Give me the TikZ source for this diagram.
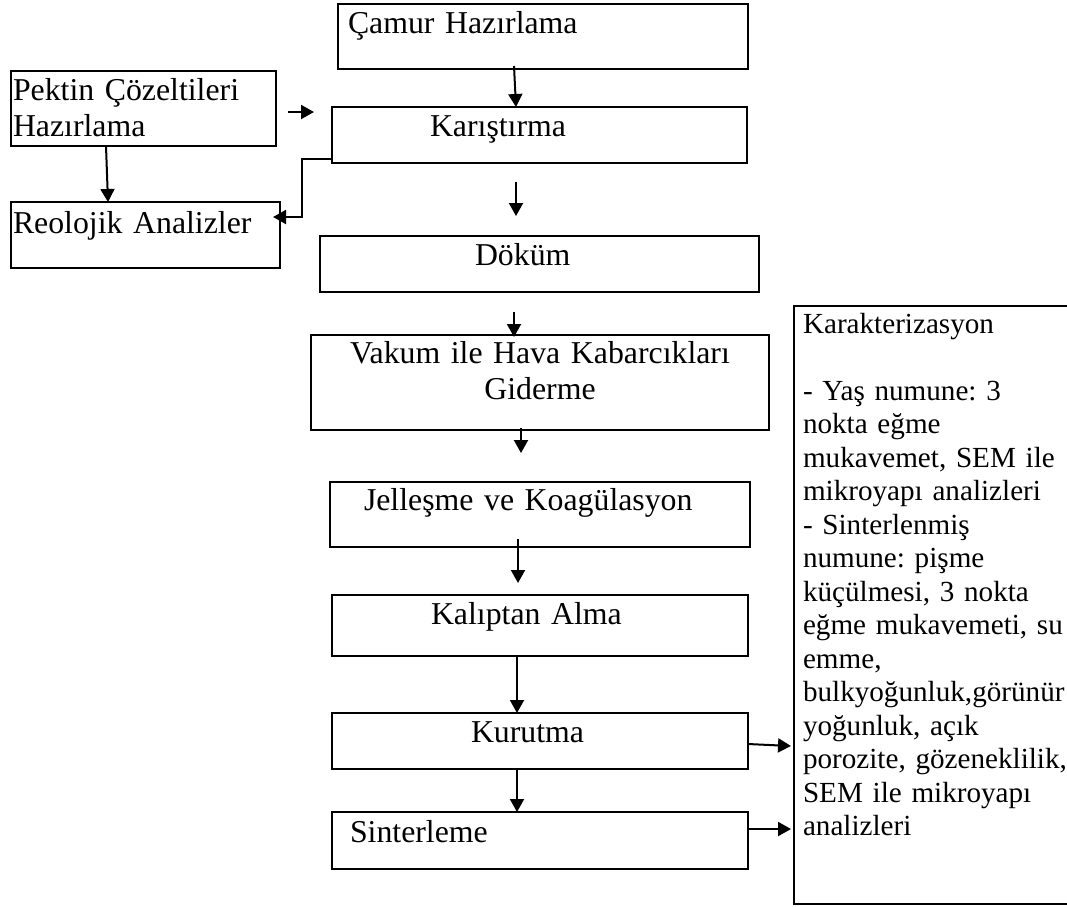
\documentclass[tikz,border=0pt]{standalone}
\usepackage{fontspec}
\setmainfont{Liberation Serif}
\usetikzlibrary{arrows.meta,calc}
\newcommand\bigtxt{\fontsize{31.8}{36.6}\selectfont\frenchspacing}
\newcommand\kartxt{\fontsize{29.15}{33.5}\selectfont\frenchspacing}
\begin{document}
\begin{tikzpicture}[x=1pt,y=-1pt,
  box/.style={draw, line width=2pt, anchor=north west, inner ysep=0pt, outer sep=0pt, align=left, font=\bigtxt},
  arr/.style={line width=2pt, -{Triangle[length=13pt,width=14pt]}}]
\useasboundingbox (0,0) rectangle (1067,906);
% boxes
\node[box, inner xsep=10pt, text width=390pt, text height=29pt, text depth=36pt] (camur) at (338,4) {Çamur Hazırlama};
\node[box, inner xsep=2pt, text width=261pt, text height=29pt, text depth=46pt] (pektin) at (11,71) {Pektin Çözeltileri\\Hazırlama};
\node[box, inner xsep=98pt, text width=219pt, text height=29pt, text depth=27pt] (karis) at (332,107) {Karıştırma};
\node[box, inner xsep=2pt, text width=265pt, text height=31pt, text depth=35pt] (reo) at (11,202) {Reolojik Analizler};
\node[box, inner xsep=155pt, text width=129pt, text height=29pt, text depth=27pt] (dokum) at (320,236) {Döküm};
\node[box, align=center, inner xsep=0pt, text width=458pt, text height=28pt, text depth=67pt] (vakum) at (311,335) {Vakum ile Hava Kabarcıkları\\Giderme};
\node[box, inner xsep=34pt, text width=352pt, text height=28pt, text depth=37pt] (jelles) at (330,482) {Jelleşme ve Koagülasyon};
\node[box, inner xsep=99pt, text width=218pt, text height=29pt, text depth=32pt] (kaliptan) at (332,595) {Kalıptan Alma};
\node[box, inner xsep=139pt, text width=138pt, text height=29pt, text depth=27pt] (kurutma) at (332,713) {Kurutma};
\node[box, inner xsep=18pt, text width=380pt, text height=30pt, text depth=27pt] (sinter) at (332,812) {Sinterleme};
\node[box, font=\kartxt, inner xsep=9pt, text width=282pt, text height=27pt, text depth=571pt] (karakter) at (794,306) {Karakterizasyon\\[33.5pt]
- Yaş numune: 3\\
nokta eğme\\
mukavemet, SEM ile\\
mikroyapı analizleri\\
- Sinterlenmiş\\
numune: pişme\\
küçülmesi, 3 nokta\\
eğme mukavemeti, su\\
emme,\\
bulkyoğunluk,görünür\\
yoğunluk, açık\\
porozite, gözeneklilik,\\
SEM ile mikroyapı\\
analizleri};
% connectors
\draw[arr] ([xshift=-29pt,yshift=3pt]camur.south) -- ([xshift=-23.5pt]karis.north);
\draw[arr] ([xshift=12pt,yshift=-3.5pt]pektin.east) -- ([xshift=-18pt,yshift=23pt]karis.west);
\draw[arr] ([xshift=-37.5pt]pektin.south) -- ([xshift=-37.5pt]reo.north);
\draw[arr] ([yshift=-24pt]karis.west) -- ++(-30,0) |- ([xshift=-7pt,yshift=18pt]reo.east);
\draw[arr] ([xshift=-23.5pt,yshift=-19pt]karis.south) -- ([xshift=-23.5pt,yshift=20pt]dokum.north);
\draw[arr] ([xshift=-25.5pt,yshift=-20pt]dokum.south) -- ([xshift=-26pt,yshift=-2pt]vakum.north);
\draw[arr] ([xshift=-19pt,yshift=2pt]vakum.south) -- ([xshift=-19pt,yshift=29pt]jelles.north);
\draw[arr] ([xshift=-22pt,yshift=8pt]jelles.south) -- ([xshift=-22pt,yshift=12pt]kaliptan.north);
\draw[arr] ([xshift=-23pt]kaliptan.south) -- ([xshift=-23pt]kurutma.north);
\draw[arr] ([xshift=-23pt]kurutma.south) -- ([xshift=-23pt]sinter.north);
\draw[arr] ([yshift=-3pt]kurutma.east) -- ([xshift=-3pt,yshift=-141pt]karakter.west);
\draw[arr] ([yshift=11.5pt]sinter.east) -- ([xshift=-3pt,yshift=-224pt]karakter.west);
\end{tikzpicture}
\end{document}
